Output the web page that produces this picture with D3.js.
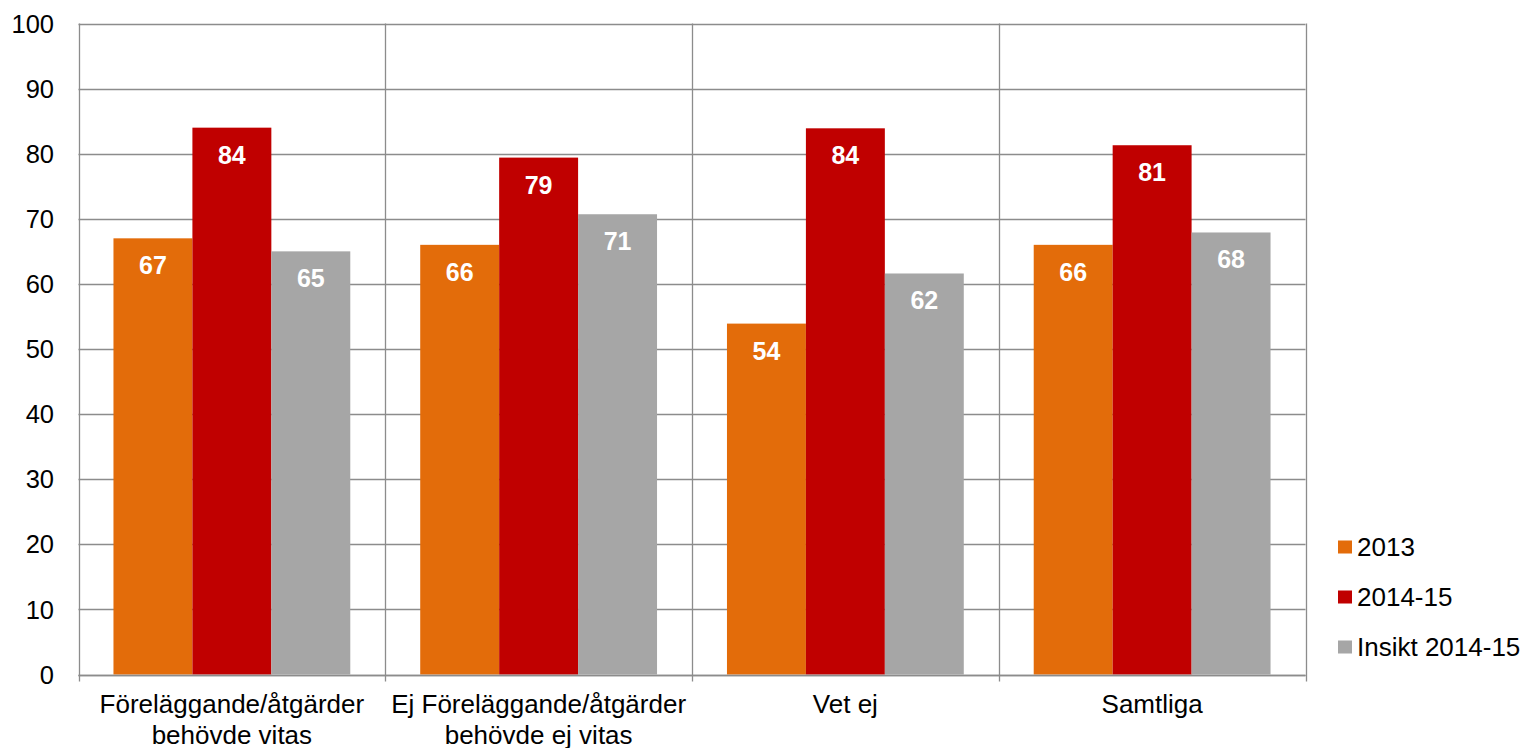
<!DOCTYPE html>
<html>
<head>
<meta charset="utf-8">
<script src="https://cdn.jsdelivr.net/npm/d3@7"></script>
<style>
  html, body { margin: 0; padding: 0; background: #fff; }
  svg { display: block; font-family: "Liberation Sans", Arial, sans-serif; }
</style>
</head>
<body>
<svg id="chart" width="1527" height="748"></svg>
<script>
// Category labels (two lines each)
const categories = [
  ["Föreläggande/åtgärder", "behövde vitas"],
  ["Ej Föreläggande/åtgärder", "behövde ej vitas"],
  ["Vet ej"],
  ["Samtliga"]
];
const seriesNames = ["2013", "2014-15", "Insikt 2014-15"];
const values2013 = [67.0, 66.0, 53.9, 66.0];
const values2014 = [84.0, 79.4, 83.9, 81.3];
const valuesInsikt = [65.0, 70.7, 61.6, 67.9];
const yTicks = [0, 10, 20, 30, 40, 50, 60, 70, 80, 90, 100];
const colors = ["#E36C0A", "#C00000", "#A6A6A6"];

const series = [values2013, values2014, valuesInsikt];

const svg = d3.select("#chart");
const m = { left: 78.5, top: 23.5, right: 1305.5, bottom: 674.5 };

const x0 = d3.scaleBand()
  .domain(d3.range(categories.length))
  .range([m.left, m.right])
  .paddingInner(0)
  .paddingOuter(0);

const x1 = d3.scaleBand()
  .domain(d3.range(seriesNames.length))
  .range([0, x0.bandwidth()])
  .paddingInner(0)
  .paddingOuter(0.443);

const y = d3.scaleLinear().domain([0, 100]).range([m.bottom, m.top]);

const gridColor = "#8c8c8c";

// Horizontal gridlines
svg.append("g")
  .selectAll("line")
  .data(yTicks)
  .join("line")
  .attr("x1", m.left).attr("x2", m.right)
  .attr("y1", d => Math.round(y(d)) + 0.5).attr("y2", d => Math.round(y(d)) + 0.5)
  .attr("stroke", gridColor).attr("stroke-width", 1.3);

// Vertical separators between categories
const bounds = d3.range(categories.length + 1).map(i => i < categories.length ? x0(i) : m.right);
svg.append("g")
  .selectAll("line")
  .data(bounds)
  .join("line")
  .attr("x1", d => Math.round(d) + 0.5).attr("x2", d => Math.round(d) + 0.5)
  .attr("y1", m.top).attr("y2", m.bottom + 7)
  .attr("stroke", gridColor).attr("stroke-width", 1.3);

// Bars
const groups = svg.append("g")
  .selectAll("g")
  .data(categories.map((c, i) => i))
  .join("g")
  .attr("transform", i => `translate(${x0(i)},0)`);

groups.selectAll("rect")
  .data(i => series.map((s, k) => ({ k, v: s[i] })))
  .join("rect")
  .attr("x", d => x1(d.k))
  .attr("width", x1.bandwidth())
  .attr("y", d => y(d.v))
  .attr("height", d => y(0) - y(d.v))
  .attr("fill", d => colors[d.k]);

groups.selectAll("text")
  .data(i => series.map((s, k) => ({ k, v: s[i] })))
  .join("text")
  .attr("x", d => x1(d.k) + x1.bandwidth() / 2)
  .attr("y", d => y(d.v) + 36)
  .attr("text-anchor", "middle")
  .attr("fill", "#fff")
  .attr("font-weight", "bold")
  .attr("font-size", 25)
  .text(d => d3.format(".0f")(d.v));

// Axis line on top of bars
svg.append("line")
  .attr("x1", m.left).attr("x2", m.right)
  .attr("y1", Math.round(y(0)) + 0.5).attr("y2", Math.round(y(0)) + 0.5)
  .attr("stroke", gridColor).attr("stroke-width", 1.3);

// Y tick labels
svg.append("g")
  .selectAll("text")
  .data(yTicks)
  .join("text")
  .attr("x", 54)
  .attr("y", d => y(d))
  .attr("dy", "0.36em")
  .attr("text-anchor", "end")
  .attr("font-size", 25.5)
  .attr("fill", "#000")
  .text(d => d);

// Category labels
const catText = svg.append("g")
  .selectAll("text")
  .data(categories)
  .join("text")
  .attr("x", (d, i) => x0(i) + x0.bandwidth() / 2)
  .attr("y", 713)
  .attr("text-anchor", "middle")
  .attr("font-size", 26)
  .attr("fill", "#000");
catText.selectAll("tspan")
  .data(d => d)
  .join("tspan")
  .attr("x", function () { return this.parentNode.getAttribute("x"); })
  .attr("dy", (d, j) => j === 0 ? 0 : 31)
  .text(d => d);

// Legend
const legend = svg.append("g")
  .selectAll("g")
  .data(seriesNames)
  .join("g")
  .attr("transform", (d, i) => `translate(1338,${547 + i * 50})`);
legend.append("rect")
  .attr("x", 0).attr("y", -6.5)
  .attr("width", 14).attr("height", 13)
  .attr("fill", (d, i) => colors[i]);
legend.append("text")
  .attr("x", 19).attr("y", 0)
  .attr("dy", "0.36em")
  .attr("font-size", 26)
  .attr("fill", "#000")
  .text(d => d);
</script>
</body>
</html>
